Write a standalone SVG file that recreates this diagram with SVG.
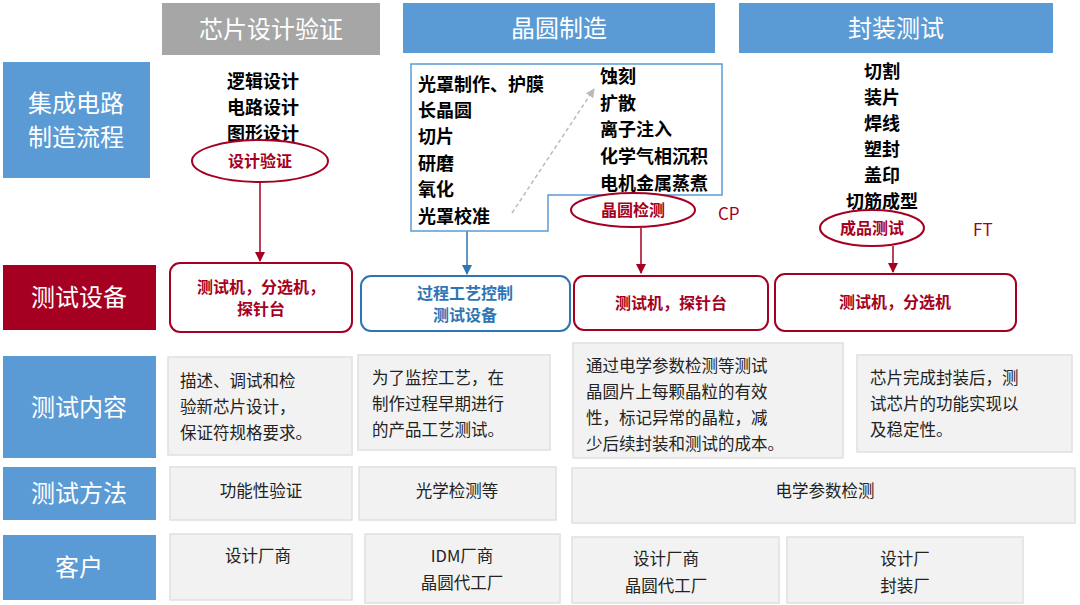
<svg xmlns="http://www.w3.org/2000/svg" width="1080" height="605" viewBox="0 0 1080 605">
<defs>
<style>
text{font-family:"Noto Sans CJK SC","Liberation Serif",serif;}
.hd{fill:#fff;font-size:24px;text-anchor:middle}
.lb{fill:#fff;font-size:24px;text-anchor:middle}
.bk{fill:#000;font-size:18px;font-weight:bold}
.rd{fill:#A50021;font-size:16px;font-weight:bold;text-anchor:middle}
.bl{fill:#2E75B6;font-size:16px;font-weight:bold;text-anchor:middle}
.gb{fill:#F2F2F2;stroke:#E0E0E0;stroke-width:1.5}
.ct{fill:#222;font-size:16.5px}
.cc{fill:#222;font-size:16.5px;text-anchor:middle}
.ell{fill:#fff;stroke:#A50021;stroke-width:2}
.rbox{fill:#fff;stroke:#A50021;stroke-width:2}
</style>
<marker id="ar" viewBox="0 0 10 10" refX="9" refY="5" markerWidth="7" markerHeight="7" orient="auto"><path d="M0,0L10,5L0,10z" fill="#A50021"/></marker>
<marker id="ab" viewBox="0 0 10 10" refX="9" refY="5" markerWidth="7" markerHeight="7" orient="auto"><path d="M0,0L10,5L0,10z" fill="#2E75B6"/></marker>
<marker id="ag" viewBox="0 0 10 10" refX="9" refY="5" markerWidth="6" markerHeight="6" orient="auto"><path d="M0,0L10,5L0,10z" fill="#BBB"/></marker>
</defs>
<rect width="1080" height="605" fill="#fff"/>
<g id="headers">
<rect x="162" y="3" width="218" height="52" fill="#A6A6A6"/><text class="hd" x="271" y="38">芯片设计验证</text>
<rect x="403" y="3" width="312" height="50" fill="#5B9BD5"/><text class="hd" x="559" y="37">晶圆制造</text>
<rect x="739" y="3" width="314" height="50" fill="#5B9BD5"/><text class="hd" x="896" y="37">封装测试</text>
</g>
<g id="rowlabels">
<rect x="3" y="62" width="147" height="116" fill="#5B9BD5"/><text class="lb" x="76" y="112">集成电路</text><text class="lb" x="76" y="146">制造流程</text>
<rect x="3" y="265" width="153" height="65" fill="#A50021"/><text class="lb" x="79" y="306">测试设备</text>
<rect x="3" y="356" width="153" height="102" fill="#5B9BD5"/><text class="lb" x="79" y="416">测试内容</text>
<rect x="3" y="467" width="153" height="53" fill="#5B9BD5"/><text class="lb" x="79" y="502">测试方法</text>
<rect x="3" y="535" width="153" height="65" fill="#5B9BD5"/><text class="lb" x="79" y="576">客户</text>
</g>
<g id="connectors">
<line x1="260" y1="182" x2="260" y2="261" stroke="#A50021" stroke-width="1.5" marker-end="url(#ar)"/>
<line x1="467" y1="231" x2="467" y2="274" stroke="#2E75B6" stroke-width="1.5" marker-end="url(#ab)"/>
<line x1="641" y1="228" x2="641" y2="273" stroke="#A50021" stroke-width="1.5" marker-end="url(#ar)"/>
<line x1="893" y1="246" x2="893" y2="272" stroke="#A50021" stroke-width="1.5" marker-end="url(#ar)"/>
<line x1="512" y1="213" x2="594" y2="89" stroke="#BBB" stroke-width="1.5" stroke-dasharray="4,3" marker-end="url(#ag)"/>
</g>
<g id="design">
<text class="bk" x="263" y="88" text-anchor="middle">逻辑设计</text>
<text class="bk" x="263" y="114" text-anchor="middle">电路设计</text>
<text class="bk" x="263" y="140" text-anchor="middle">图形设计</text>
<ellipse class="ell" cx="260" cy="161" rx="68" ry="21"/><text class="rd" x="260" y="167" font-size="18">设计验证</text>
</g>
<g id="wafer">
<path d="M411,64H722V195H548V231H411Z" fill="none" stroke="#5B9BD5" stroke-width="1.5"/>
<text class="bk" x="418" y="91">光罩制作、护膜</text>
<text class="bk" x="418" y="117">长晶圆</text>
<text class="bk" x="418" y="143">切片</text>
<text class="bk" x="418" y="170">研磨</text>
<text class="bk" x="418" y="196">氧化</text>
<text class="bk" x="418" y="223">光罩校准</text>
<text class="bk" x="600" y="83">蚀刻</text>
<text class="bk" x="600" y="110">扩散</text>
<text class="bk" x="600" y="136">离子注入</text>
<text class="bk" x="600" y="163">化学气相沉积</text>
<text class="bk" x="600" y="190">电机金属蒸煮</text>
<ellipse class="ell" cx="633" cy="210" rx="62" ry="17"/><text class="rd" x="633" y="216" font-size="18">晶圆检测</text>
<text x="718" y="220" fill="#A50021" font-size="17" font-family="Liberation Serif,serif">CP</text>
</g>
<g id="package">
<text class="bk" x="882" y="78" text-anchor="middle">切割</text>
<text class="bk" x="882" y="104" text-anchor="middle">装片</text>
<text class="bk" x="882" y="130" text-anchor="middle">焊线</text>
<text class="bk" x="882" y="156" text-anchor="middle">塑封</text>
<text class="bk" x="882" y="182" text-anchor="middle">盖印</text>
<text class="bk" x="882" y="208" text-anchor="middle">切筋成型</text>
<ellipse class="ell" cx="872" cy="228" rx="52" ry="18"/><text class="rd" x="872" y="234" font-size="18">成品测试</text>
<text x="973" y="236" fill="#A50021" font-size="17" font-family="Liberation Serif,serif">FT</text>
</g>
<g id="equip">
<rect class="rbox" x="170" y="263" width="182" height="69" rx="10"/><text class="rd" x="261" y="293">测试机，分选机，</text><text class="rd" x="261" y="315">探针台</text>
<rect x="361" y="276" width="209" height="55" rx="10" fill="#fff" stroke="#2E75B6" stroke-width="2"/><text class="bl" x="465" y="299">过程工艺控制</text><text class="bl" x="465" y="321">测试设备</text>
<rect class="rbox" x="574" y="276" width="194" height="54" rx="10"/><text class="rd" x="671" y="309">测试机，探针台</text>
<rect class="rbox" x="775" y="274" width="241" height="57" rx="10"/><text class="rd" x="895" y="308">测试机，分选机</text>
</g>
<g id="content">
<rect class="gb" x="168" y="357" width="184" height="98"/>
<text class="ct" x="180" y="387">描述、调试和检</text><text class="ct" x="180" y="413">验新芯片设计，</text><text class="ct" x="180" y="439">保证符规格要求。</text>
<rect class="gb" x="358" y="355" width="192" height="95"/>
<text class="ct" x="372" y="384">为了监控工艺，在</text><text class="ct" x="372" y="410">制作过程早期进行</text><text class="ct" x="372" y="436">的产品工艺测试。</text>
<rect class="gb" x="573" y="343" width="270" height="115"/>
<text class="ct" x="586" y="372">通过电学参数检测等测试</text><text class="ct" x="586" y="398">晶圆片上每颗晶粒的有效</text><text class="ct" x="586" y="424">性，标记异常的晶粒，减</text><text class="ct" x="586" y="450">少后续封装和测试的成本。</text>
<rect class="gb" x="857" y="355" width="215" height="97"/>
<text class="ct" x="870" y="384">芯片完成封装后，测</text><text class="ct" x="870" y="410">试芯片的功能实现以</text><text class="ct" x="870" y="436">及稳定性。</text>
</g>
<g id="methods">
<rect class="gb" x="170" y="467" width="182" height="53"/><text class="cc" x="261" y="497">功能性验证</text>
<rect class="gb" x="359" y="467" width="197" height="53"/><text class="cc" x="457" y="497">光学检测等</text>
<rect class="gb" x="572" y="468" width="503" height="55"/><text class="cc" x="825" y="497">电学参数检测</text>
</g>
<g id="customers">
<rect class="gb" x="170" y="534" width="182" height="66"/><text class="cc" x="258" y="562">设计厂商</text>
<rect class="gb" x="365" y="534" width="195" height="69"/><text class="cc" x="462" y="562">IDM厂商</text><text class="cc" x="462" y="589">晶圆代工厂</text>
<rect class="gb" x="572" y="537" width="207" height="66"/><text class="cc" x="666" y="565">设计厂商</text><text class="cc" x="666" y="592">晶圆代工厂</text>
<rect class="gb" x="787" y="537" width="236" height="66"/><text class="cc" x="905" y="565">设计厂</text><text class="cc" x="905" y="592">封装厂</text>
</g>
</svg>
